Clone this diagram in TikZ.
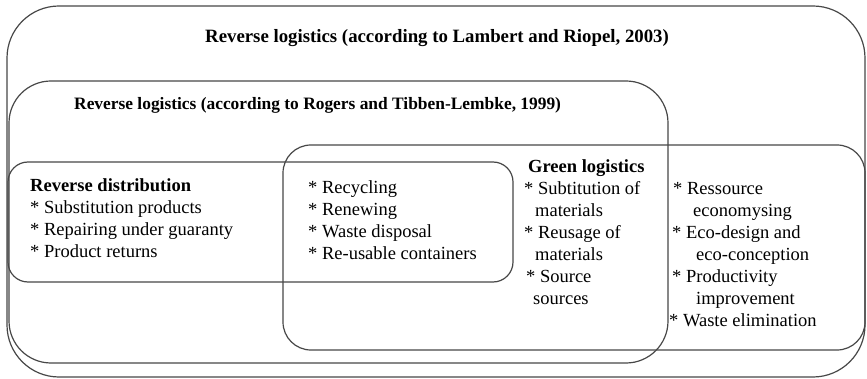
\documentclass[tikz,border=0pt]{standalone}
\usepackage{fontspec}
\setmainfont{Liberation Serif}
\newcommand{\txtfont}{\fontsize{18.5}{22}\selectfont}
\begin{document}
\begin{tikzpicture}[x=1pt,y=-1pt,
  frame/.style={draw=black!72, line width=1.2pt},
  ln/.style={anchor=base west, inner sep=0pt, font=\txtfont},
  hd/.style={ln, font=\txtfont\bfseries}]
\useasboundingbox (0,0) rectangle (867,379);

% nested scopes of reverse and green logistics
\draw[frame, rounded corners=52pt] (7,6) rectangle (865,377);
\draw[frame, rounded corners=42pt] (9,81) rectangle (668,363);
\draw[frame, rounded corners=28pt] (283,145) rectangle (865,350);
\draw[frame, rounded corners=20pt] (8,162) rectangle (513,282);

% titles
\node[hd, font=\fontsize{18.8}{22}\selectfont\bfseries] (lambert) at (205,43)
  {Reverse logistics (according to Lambert and Riopel, 2003)};
\node[hd, font=\fontsize{17.4}{22}\selectfont\bfseries] (rogers) at (74,110)
  {Reverse logistics (according to Rogers and Tibben-Lembke, 1999)};

% reverse distribution
\node[hd] (rd) at (30,192) {Reverse distribution};
\node[ln] (rd1) at (30,214) {* Substitution products};
\node[ln] (rd2) at (30,236) {* Repairing under guaranty};
\node[ln] (rd3) at (30,258) {* Product returns};

% shared activities
\node[ln] (sh1) at (308,194) {* Recycling};
\node[ln] (sh2) at (308,216) {* Renewing};
\node[ln] (sh3) at (308,238) {* Waste disposal};
\node[ln] (sh4) at (308,260) {* Re-usable containers};

% green logistics
\node[hd] (gl) at (528,173) {Green logistics};
\node[ln] (gl1) at (524,195) {* Subtitution of};
\node[ln] (gl1b) at (535,217) {materials};
\node[ln] (gl2) at (524,239) {* Reusage of};
\node[ln] (gl2b) at (535,261) {materials};
\node[ln] (gl3) at (526,283) {* Source};
\node[ln] (gl3b) at (533,305) {sources};

% green-only activities
\node[ln] (gr1) at (673,195) {* Ressource};
\node[ln] (gr1b) at (693,217) {economysing};
\node[ln] (gr2) at (672,239) {* Eco-design and};
\node[ln] (gr2b) at (696,261) {eco-conception};
\node[ln] (gr3) at (672,283) {* Productivity};
\node[ln] (gr3b) at (696,305) {improvement};
\node[ln] (gr4) at (669,326) {* Waste elimination};
\end{tikzpicture}
\end{document}
